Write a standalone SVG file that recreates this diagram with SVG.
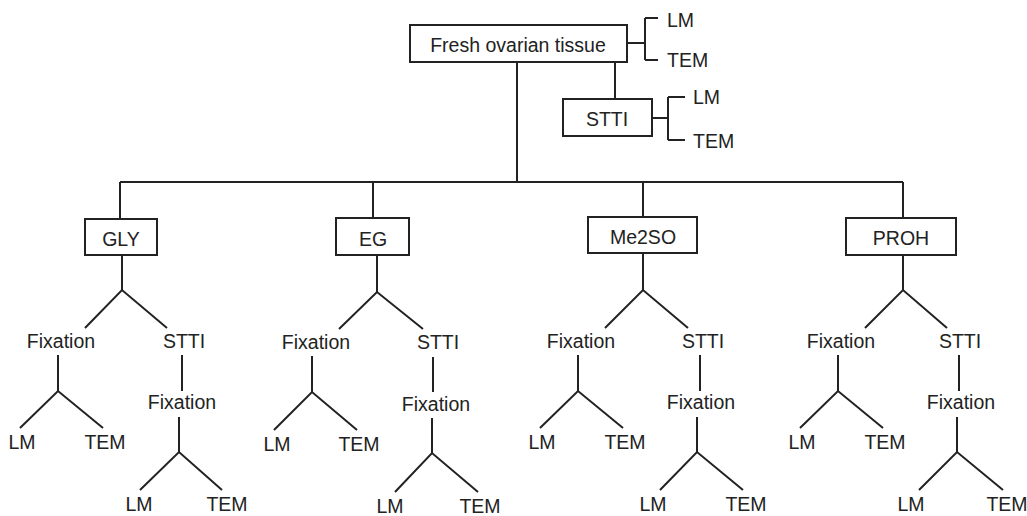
<svg xmlns="http://www.w3.org/2000/svg" width="1027" height="516" viewBox="0 0 1027 516">
<style>
.box{fill:#fff;stroke:#222;stroke-width:2}
.ln{fill:none;stroke:#222;stroke-width:2}
text{font-family:"Liberation Sans",Arial,sans-serif;font-size:19.5px;fill:#222}
.c{text-anchor:middle}
</style>
<rect width="1027" height="516" fill="#fff"/>
<g id="connectors">
<path class="ln" d="M517 62V182M120 182H903M615 62V99"/>
<path class="ln" d="M627 43H645M645 18V60M645 18H658M645 60H658"/>
<path class="ln" d="M652 118H668M668 97V140M668 97H685M668 140H685"/>
<path class="ln" d="M120 182V219M373 182V218M643 182V217M903 182V218"/>
</g>
<g id="fresh"><rect class="box" x="410" y="25" width="217" height="37"/><text class="c" x="518" y="52">Fresh ovarian tissue</text></g>
<g id="fresh-lm"><text x="667" y="27">LM</text></g>
<g id="fresh-tem"><text x="667" y="67">TEM</text></g>
<g id="stti"><rect class="box" x="563" y="99" width="89" height="37"/><text class="c" x="607" y="126">STTI</text></g>
<g id="stti-lm"><text x="693" y="104">LM</text></g>
<g id="stti-tem"><text x="693" y="148">TEM</text></g>

<g id="gly"><rect class="box" x="85" y="219" width="72" height="36"/><text class="c" x="121" y="246">GLY</text></g>
<g id="gly-tree" transform="translate(122,0)">
<path class="ln" d="M0 255V290M-37 328L0 290L45 328M-64 355V391M-102 428L-64 391L-19 428M60 355V391M57 417V452M18 490L57 452L100 490"/>
<text class="c" x="-61" y="348">Fixation</text><text class="c" x="62" y="348">STTI</text>
<text class="c" x="-100" y="449">LM</text><text class="c" x="-17" y="449">TEM</text>
<text class="c" x="60" y="409">Fixation</text>
<text class="c" x="17" y="511">LM</text><text class="c" x="105" y="511">TEM</text>
</g>

<g id="eg"><rect class="box" x="336" y="218" width="73" height="37"/><text class="c" x="373" y="246">EG</text></g>
<g id="eg-tree" transform="translate(377,0)">
<path class="ln" d="M0 255V292M-38 329L0 292L46 329M-65 356V392M-103 430L-65 392L-20 430M56 357V392M55 418V453M18 492L55 453L101 492"/>
<text class="c" x="-61" y="349">Fixation</text><text class="c" x="61" y="349">STTI</text>
<text class="c" x="-100" y="451">LM</text><text class="c" x="-18" y="451">TEM</text>
<text class="c" x="59" y="411">Fixation</text>
<text class="c" x="13" y="513">LM</text><text class="c" x="103" y="513">TEM</text>
</g>

<g id="me2so"><rect class="box" x="588" y="217" width="109" height="36"/><text class="c" x="643" y="244">Me2SO</text></g>
<g id="me2so-tree" transform="translate(643,0)">
<path class="ln" d="M0 253V290M-38 328L0 290L45 328M-65 355V391M-103 428L-65 391L-20 428M57 355V391M54 417V452M17 490L54 452L100 490"/>
<text class="c" x="-62" y="348">Fixation</text><text class="c" x="60" y="348">STTI</text>
<text class="c" x="-101" y="449">LM</text><text class="c" x="-18" y="449">TEM</text>
<text class="c" x="58" y="409">Fixation</text>
<text class="c" x="10" y="511">LM</text><text class="c" x="103" y="511">TEM</text>
</g>

<g id="proh"><rect class="box" x="846" y="218" width="110" height="37"/><text class="c" x="901" y="245">PROH</text></g>
<g id="proh-tree" transform="translate(903,0)">
<path class="ln" d="M0 255V290M-38 328L0 290L44 328M-65 355V391M-103 428L-65 391L-20 428M56 355V391M54 417V452M16 490L54 452L100 490"/>
<text class="c" x="-62" y="348">Fixation</text><text class="c" x="57" y="348">STTI</text>
<text class="c" x="-101" y="449">LM</text><text class="c" x="-18" y="449">TEM</text>
<text class="c" x="58" y="409">Fixation</text>
<text class="c" x="8" y="511">LM</text><text class="c" x="104" y="511">TEM</text>
</g>
</svg>
